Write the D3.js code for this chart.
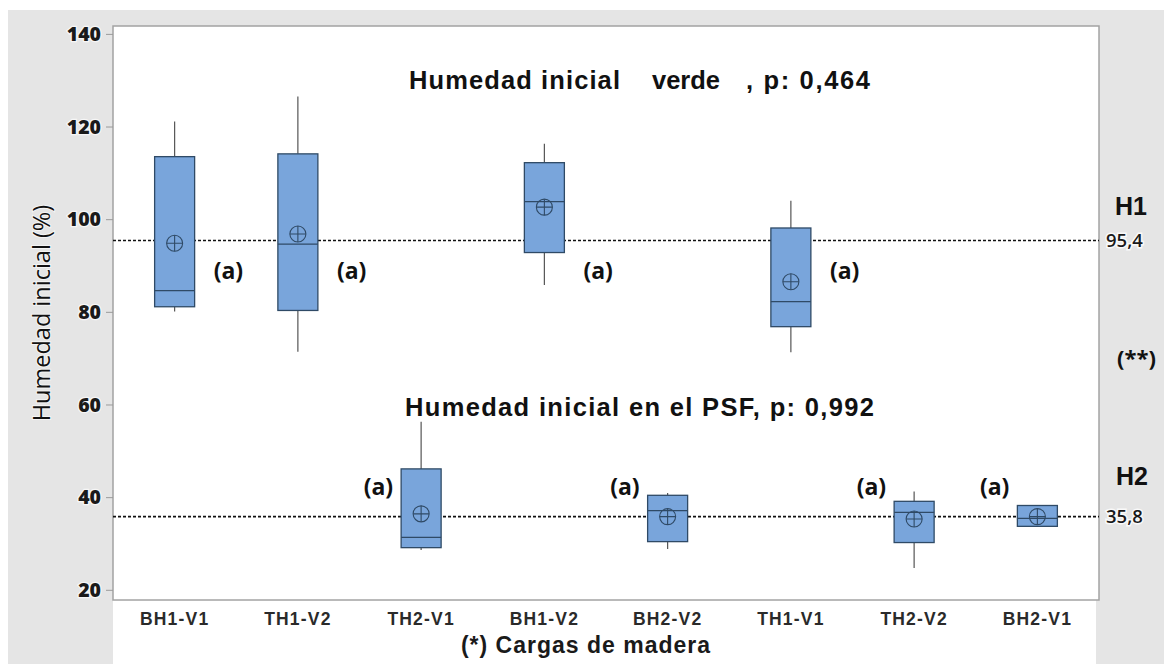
<!DOCTYPE html>
<html>
<head>
<meta charset="utf-8">
<script src="https://cdn.jsdelivr.net/npm/d3@7"></script>
<style>
  html, body { margin: 0; padding: 0; background: #ffffff; }
  svg { display: block; }
</style>
</head>
<body>
<svg id="chart" width="1164" height="664"></svg>
<script>
// Wood loads (cargas de madera)
const categories = ["BH1-V1", "TH1-V2", "TH2-V1", "BH1-V2", "BH2-V2", "TH1-V1", "TH2-V2", "BH2-V1"];
// Moisture group of each load: H1 = green wood, H2 = at fibre saturation point
const groups = ["H1", "H1", "H2", "H1", "H2", "H1", "H2", "H2"];

// Box-plot statistics, initial moisture (%)
const whiskerLow  = [80.1, 71.4, 28.6, 85.8, 28.8, 71.3, 24.7, 33.6];
const q1          = [81.1, 80.3, 29.1, 92.8, 30.4, 76.8, 30.2, 33.7];
const medians     = [84.6, 94.6, 31.3, 103.8, 37.1, 82.2, 36.7, 35.4];
const q3          = [113.5, 114.1, 46.1, 112.2, 40.4, 98.1, 39.1, 38.2];
const whiskerHigh = [121.1, 126.5, 56.3, 116.3, 40.9, 104.0, 41.2, 38.3];
const means       = [94.8, 96.8, 36.4, 102.6, 35.8, 86.5, 35.3, 35.8];
const letters     = ["(a)", "(a)", "(a)", "(a)", "(a)", "(a)", "(a)", "(a)"];

// Group averages drawn as reference lines
const refNames  = ["H1", "H2"];
const refValues = [95.4, 35.8];
const refLabels = ["95,4", "35,8"];

// Y axis ticks
const yTicks = [20, 40, 60, 80, 100, 120, 140];
const yDomain = [17.8, 141.7];

const svg = d3.select("#chart");
const W = 1164, H = 664;
const plot = { left: 113, right: 1099, top: 26, bottom: 600 };

// Background panels
svg.append("rect").attr("x", 8).attr("y", 10).attr("width", W - 8).attr("height", H - 10).attr("fill", "#e5e5e5");
svg.append("rect").attr("x", plot.left).attr("y", plot.bottom).attr("width", plot.right - plot.left - 3).attr("height", H - plot.bottom).attr("fill", "#ffffff");
svg.append("rect").attr("x", plot.left).attr("y", plot.top).attr("width", plot.right - plot.left).attr("height", plot.bottom - plot.top)
  .attr("fill", "#ffffff").attr("stroke", "#a3a3a3").attr("stroke-width", 1.5);

const x = d3.scaleBand().domain(categories).range([plot.left, plot.right]).padding(0);
const y = d3.scaleLinear().domain(yDomain).range([plot.bottom, plot.top]);
const cx = c => x(c) + x.bandwidth() / 2;

// Y axis
const yAxis = svg.append("g").attr("transform", `translate(${plot.left},0)`)
  .call(d3.axisLeft(y).tickValues(yTicks).tickSize(7).tickPadding(5).tickFormat(d3.format("d")));
yAxis.select(".domain").remove();
yAxis.selectAll(".tick line").attr("stroke", "#9a9a9a").attr("stroke-width", 1);
yAxis.selectAll(".tick text")
  .attr("font-family", "'Open Sans', sans-serif").attr("font-weight", 800).attr("font-size", "19.5px")
  .attr("fill", "#1a1a1a").attr("stroke", "#ffffff").attr("stroke-width", 2.5).attr("stroke-opacity", 0.7)
  .attr("paint-order", "stroke").attr("dy", "0.34em");

// X axis labels
const xAxis = svg.append("g").attr("transform", `translate(0,${plot.bottom})`)
  .call(d3.axisBottom(x).tickSize(0).tickPadding(13));
xAxis.select(".domain").remove();
xAxis.selectAll(".tick text")
  .attr("font-family", "'Liberation Sans', Arial, sans-serif").attr("font-weight", 700).attr("font-size", "17.5px")
  .attr("letter-spacing", "1.2px").attr("fill", "#2a2a2a");

// Axis titles
svg.append("text")
  .attr("transform", `translate(50,${(plot.top + plot.bottom) / 2}) rotate(-90)`)
  .attr("text-anchor", "middle")
  .attr("font-family", "'Open Sans', sans-serif").attr("font-weight", 500).attr("font-size", "23.5px").attr("fill", "#111")
  .attr("stroke", "#ffffff").attr("stroke-width", 2).attr("stroke-opacity", 0.6).attr("paint-order", "stroke")
  .text("Humedad inicial (%)");

svg.append("text")
  .attr("x", 586).attr("y", 653).attr("text-anchor", "middle")
  .attr("font-family", "'Liberation Sans', Arial, sans-serif").attr("font-weight", 700).attr("font-size", "23px")
  .attr("letter-spacing", "1px").attr("fill", "#1a1a1a")
  .text("(*) Cargas de madera");

// Reference lines with their values on the right
refValues.forEach((v, i) => {
  svg.append("line")
    .attr("x1", plot.left).attr("x2", plot.right).attr("y1", y(v)).attr("y2", y(v))
    .attr("stroke", "#111").attr("stroke-width", 1.6).attr("stroke-dasharray", "3,2");
  svg.append("text")
    .attr("x", plot.right + 7).attr("y", y(v)).attr("dy", "0.36em")
    .attr("font-family", "'Open Sans', sans-serif").attr("font-weight", 600).attr("font-size", "18.5px").attr("fill", "#1a1a1a")
    .attr("stroke", "#ffffff").attr("stroke-width", 3).attr("stroke-opacity", 0.8).attr("paint-order", "stroke")
    .text(refLabels[i]);
});

// Group names beside the reference lines
svg.append("text").attr("x", 1115).attr("y", 215)
  .attr("font-family", "'Liberation Sans', Arial, sans-serif").attr("font-weight", 700).attr("font-size", "25px").attr("fill", "#111")
  .text(refNames[0]);
svg.append("text").attr("x", 1116).attr("y", 485)
  .attr("font-family", "'Liberation Sans', Arial, sans-serif").attr("font-weight", 700).attr("font-size", "25px").attr("fill", "#111")
  .text(refNames[1]);
svg.append("text").attr("x", 1117).attr("y", 366)
  .attr("font-family", "'Open Sans', sans-serif").attr("font-weight", 700).attr("font-size", "22px").attr("fill", "#111")
  .text("(**)");

// Panel titles
const titleFont = "'Liberation Sans', Arial, sans-serif";
const t1 = svg.append("text").attr("y", 89)
  .attr("font-family", titleFont).attr("font-weight", 700).attr("font-size", "25.5px").attr("fill", "#111");
t1.append("tspan").attr("x", 409).attr("textLength", 211).attr("lengthAdjust", "spacing").text("Humedad inicial");
t1.append("tspan").attr("x", 652).attr("textLength", 68).attr("lengthAdjust", "spacing").text("verde");
t1.append("tspan").attr("x", 746).attr("textLength", 124).attr("lengthAdjust", "spacing").text(", p: 0,464");

svg.append("text").attr("x", 405).attr("y", 416)
  .attr("font-family", titleFont).attr("font-weight", 700).attr("font-size", "25.5px").attr("fill", "#111")
  .attr("textLength", 469).attr("lengthAdjust", "spacing")
  .text("Humedad inicial en el PSF, p: 0,992");

// Box plots
const boxW = 40;
const boxFill = "#79a5db", boxStroke = "#2f4a66";
const idx = d3.range(categories.length);
const boxes = svg.append("g").selectAll("g").data(idx).join("g");

boxes.append("line")
  .attr("x1", i => cx(categories[i])).attr("x2", i => cx(categories[i]))
  .attr("y1", i => y(whiskerHigh[i])).attr("y2", i => y(q3[i]))
  .attr("stroke", "#555").attr("stroke-width", 1.2);
boxes.append("line")
  .attr("x1", i => cx(categories[i])).attr("x2", i => cx(categories[i]))
  .attr("y1", i => y(q1[i])).attr("y2", i => y(whiskerLow[i]))
  .attr("stroke", "#555").attr("stroke-width", 1.2);
boxes.append("rect")
  .attr("x", i => cx(categories[i]) - boxW / 2).attr("width", boxW)
  .attr("y", i => y(q3[i])).attr("height", i => y(q1[i]) - y(q3[i]))
  .attr("fill", boxFill).attr("stroke", boxStroke).attr("stroke-width", 1.3);
boxes.append("line")
  .attr("x1", i => cx(categories[i]) - boxW / 2).attr("x2", i => cx(categories[i]) + boxW / 2)
  .attr("y1", i => y(medians[i])).attr("y2", i => y(medians[i]))
  .attr("stroke", boxStroke).attr("stroke-width", 1.3);

// Mean symbol: circle with cross
const r = 8;
boxes.append("circle")
  .attr("cx", i => cx(categories[i])).attr("cy", i => y(means[i])).attr("r", r)
  .attr("fill", "none").attr("stroke", boxStroke).attr("stroke-width", 1.1);
boxes.append("path")
  .attr("d", i => {
    const px = cx(categories[i]), py = y(means[i]);
    return `M${px - r},${py}H${px + r}M${px},${py - r}V${py + r}`;
  })
  .attr("stroke", boxStroke).attr("stroke-width", 1.1).attr("fill", "none");

// Tukey grouping letters: right of the box for H1, left of the box for H2
boxes.append("text")
  .attr("x", i => groups[i] === "H1" ? cx(categories[i]) + 39 : cx(categories[i]) - 28)
  .attr("y", i => {
    const ref = y(refValues[refNames.indexOf(groups[i])]);
    return groups[i] === "H1" ? ref + 30 : ref - 30;
  })
  .attr("dy", "0.36em")
  .attr("text-anchor", i => groups[i] === "H1" ? "start" : "end")
  .attr("font-family", "'Open Sans', sans-serif").attr("font-weight", 700).attr("font-size", "23px").attr("fill", "#111")
  .text(i => letters[i]);
</script>
</body>
</html>
